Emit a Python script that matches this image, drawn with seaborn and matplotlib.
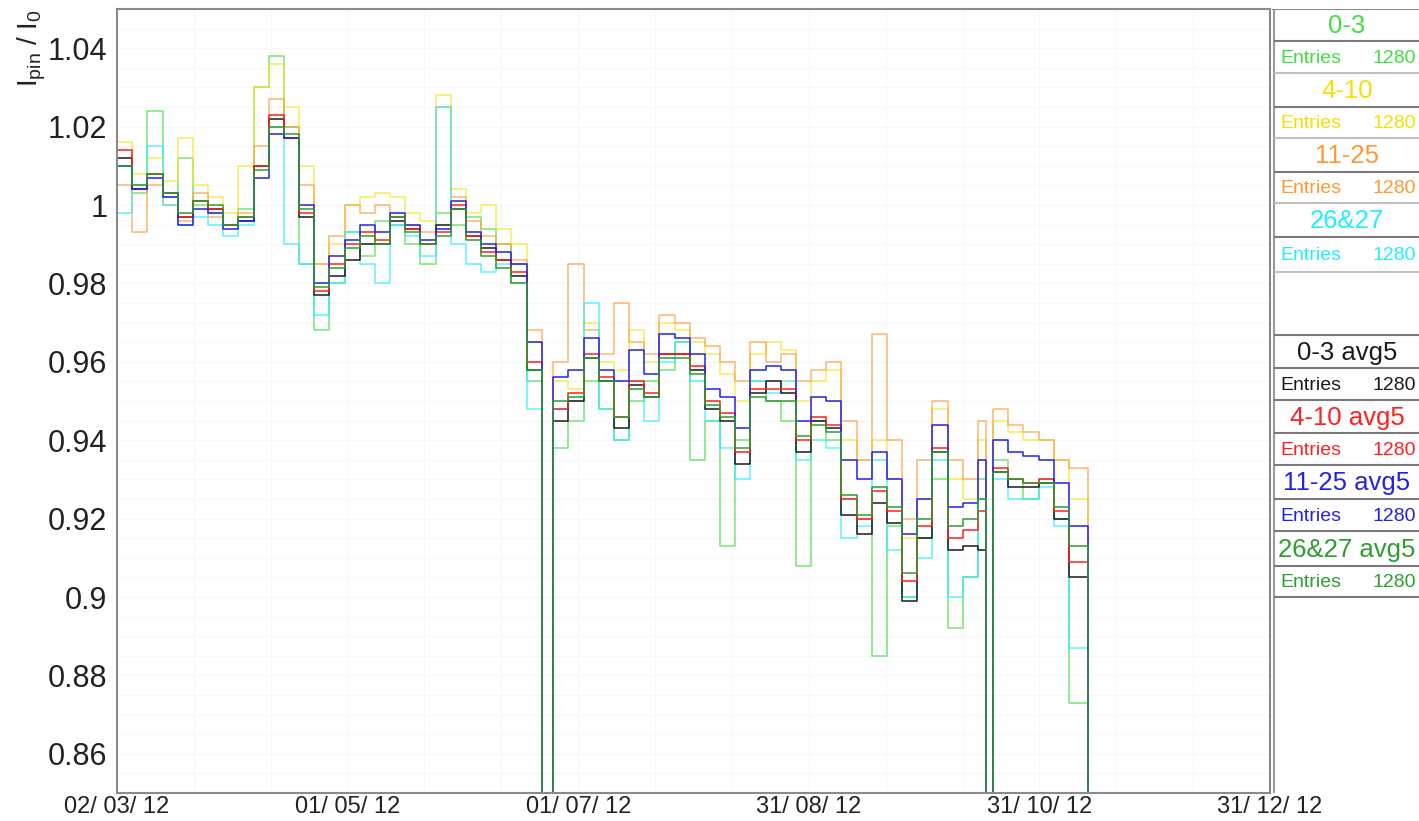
import numpy as np
import pandas as pd
import matplotlib
matplotlib.use('Agg')
import matplotlib.pyplot as plt
from matplotlib.ticker import FixedLocator, FuncFormatter, MultipleLocator
import seaborn as sns

sns.set_style('white')
plt.rcParams['font.family'] = ['Liberation Sans', 'DejaVu Sans']
plt.rcParams['mathtext.default'] = 'regular'

# bin edges in days since 02/03/12
edges = [0, 4, 8, 12, 16, 20, 24, 28, 32, 36, 40, 44, 48, 52, 56, 60, 64, 68, 72, 76,
         80, 84, 88, 92, 96, 100, 104, 108, 112,
         115, 119, 123, 127, 131, 135, 139, 143, 147, 151, 155, 159, 163, 167, 171, 175,
         179, 183, 187, 191, 195, 199, 203, 207, 211, 215, 219, 223, 227, 229,
         231, 235, 239, 243, 247, 251, 256, 304]

series_names = ['0-3', '4-10', '11-25', '26&27', '0-3 avg5', '4-10 avg5', '11-25 avg5', '26&27 avg5']
entries = [1280, 1280, 1280, 1280, 1280, 1280, 1280, 1280]
colors = ['#4ddd4d', '#f7e629', '#ff9f3f', '#2ef0ff', '#1a1a1a', '#ff2020', '#2222ee', '#2e9e2e']
text_colors = ['#44dd44', '#f5e000', '#ff9933', '#22eeff', '#1a1a1a', '#ff2020', '#2222ee', '#2e9e2e']

raw_0_3 = [1.010, 1.003, 1.024, 1.002, 1.012, 1.000, 0.998, 0.995, 0.999, 1.030, 1.038, 1.020, 0.985, 0.968,
           0.980, 0.993, 0.987, 0.996, 0.995, 0.990, 0.985, 0.998, 0.995, 0.997, 0.994, 0.990, 0.985, 0.955,
           0,
           0.938, 0.945, 0.955, 0.948, 0.940, 0.950, 0.955, 0.958, 0.965, 0.935, 0.945, 0.913, 0.940, 0.955,
           0.950, 0.945, 0.908, 0.945, 0.940, 0.925, 0.920, 0.885, 0.918, 0.900, 0.915, 0.930, 0.892, 0.905,
           0.930,
           0,
           0.935, 0.930, 0.925, 0.930, 0.920, 0.873,
           0]
raw_4_10 = [1.016, 1.008, 1.012, 1.006, 1.017, 1.005, 1.002, 0.998, 1.010, 1.030, 1.036, 1.025, 1.010, 0.985,
            0.990, 1.000, 1.002, 1.003, 1.002, 0.998, 0.996, 1.028, 1.004, 0.998, 1.000, 0.994, 0.990, 0.965,
            0,
            0.955, 0.953, 0.970, 0.960, 0.958, 0.968, 0.960, 0.970, 0.968, 0.965, 0.962, 0.957, 0.950, 0.962,
            0.965, 0.963, 0.950, 0.955, 0.958, 0.940, 0.935, 0.940, 0.930, 0.915, 0.925, 0.948, 0.930, 0.925,
            0.940,
            0,
            0.945, 0.942, 0.940, 0.940, 0.935, 0.925,
            0]
raw_11_25 = [1.005, 0.993, 1.005, 1.000, 0.996, 1.003, 0.997, 0.995, 0.998, 1.015, 1.027, 1.020, 1.005, 0.985,
             0.992, 1.000, 0.998, 1.000, 0.997, 0.995, 0.993, 1.025, 1.002, 0.996, 0.992, 0.990, 0.986, 0.968,
             0,
             0.960, 0.985, 0.968, 0.962, 0.975, 0.965, 0.962, 0.972, 0.970, 0.966, 0.964, 0.960, 0.955, 0.965,
             0.960, 0.962, 0.955, 0.958, 0.960, 0.945, 0.935, 0.967, 0.940, 0.920, 0.935, 0.950, 0.935, 0.930,
             0.945,
             0,
             0.948, 0.944, 0.942, 0.940, 0.935, 0.933,
             0]
raw_26_27 = [0.998, 1.005, 1.015, 1.000, 0.995, 0.997, 0.995, 0.992, 0.995, 1.010, 1.020, 0.990, 0.985, 0.972,
             0.980, 0.993, 0.985, 0.980, 0.995, 0.992, 0.987, 1.025, 0.990, 0.985, 0.983, 0.985, 0.980, 0.948,
             0,
             0.948, 0.950, 0.975, 0.948, 0.940, 0.955, 0.945, 0.960, 0.965, 0.955, 0.945, 0.938, 0.930, 0.955,
             0.952, 0.955, 0.935, 0.940, 0.938, 0.915, 0.918, 0.935, 0.912, 0.900, 0.910, 0.935, 0.900, 0.905,
             0.925,
             0,
             0.930, 0.925, 0.925, 0.928, 0.918, 0.887,
             0]
avg_0_3 = [1.012, 1.004, 1.008, 1.003, 0.997, 1.001, 0.999, 0.995, 0.996, 1.010, 1.022, 1.017, 0.997, 0.977,
           0.982, 0.986, 0.990, 0.990, 0.996, 0.994, 0.990, 0.995, 0.999, 0.992, 0.989, 0.986, 0.982, 0.958,
           0,
           0.945, 0.950, 0.961, 0.955, 0.943, 0.954, 0.951, 0.962, 0.962, 0.958, 0.948, 0.945, 0.934, 0.952,
           0.955, 0.952, 0.937, 0.945, 0.943, 0.921, 0.916, 0.924, 0.919, 0.899, 0.915, 0.937, 0.912, 0.913,
           0.912,
           0,
           0.932, 0.928, 0.928, 0.929, 0.920, 0.905,
           0]
avg_4_10 = [1.014, 1.004, 1.008, 1.003, 0.997, 1.001, 0.999, 0.995, 0.997, 1.010, 1.023, 1.017, 0.998, 0.978,
            0.985, 0.990, 0.993, 0.991, 0.997, 0.994, 0.990, 0.993, 1.000, 0.992, 0.988, 0.986, 0.983, 0.960,
            0,
            0.948, 0.952, 0.962, 0.956, 0.946, 0.955, 0.952, 0.962, 0.962, 0.959, 0.950, 0.947, 0.937, 0.953,
            0.953, 0.953, 0.940, 0.946, 0.944, 0.925, 0.920, 0.927, 0.922, 0.904, 0.918, 0.938, 0.915, 0.917,
            0.922,
            0,
            0.933, 0.930, 0.929, 0.930, 0.922, 0.909,
            0]
avg_11_25 = [1.010, 1.004, 1.007, 1.002, 0.995, 0.999, 0.998, 0.994, 0.996, 1.007, 1.018, 1.017, 1.000, 0.980,
             0.987, 0.991, 0.995, 0.993, 0.998, 0.995, 0.991, 0.994, 1.001, 0.993, 0.990, 0.988, 0.985, 0.965,
             0,
             0.956, 0.958, 0.966, 0.958, 0.955, 0.963, 0.957, 0.967, 0.966, 0.962, 0.953, 0.951, 0.943, 0.958,
             0.959, 0.958, 0.945, 0.951, 0.950, 0.935, 0.930, 0.937, 0.930, 0.916, 0.925, 0.944, 0.923, 0.924,
             0.935,
             0,
             0.940, 0.937, 0.936, 0.935, 0.929, 0.918,
             0]
avg_26_27 = [1.010, 1.005, 1.008, 1.003, 0.998, 1.001, 1.000, 0.995, 0.997, 1.009, 1.020, 1.018, 0.999, 0.979,
             0.984, 0.989, 0.992, 0.990, 0.997, 0.993, 0.990, 0.992, 0.999, 0.991, 0.987, 0.984, 0.980, 0.958,
             0,
             0.950, 0.951, 0.961, 0.955, 0.946, 0.953, 0.951, 0.961, 0.961, 0.957, 0.949, 0.946, 0.938, 0.951,
             0.950, 0.950, 0.941, 0.944, 0.942, 0.926, 0.921, 0.928, 0.923, 0.906, 0.920, 0.937, 0.918, 0.920,
             0.925,
             0,
             0.932, 0.930, 0.929, 0.929, 0.923, 0.913,
             0]

all_values = [raw_0_3, raw_4_10, raw_11_25, raw_26_27, avg_0_3, avg_4_10, avg_11_25, avg_26_27]

x_tick_days = [0, 60.8, 121.6, 182.4, 243.2, 304]
x_tick_labels = ['02/ 03/ 12', '01/ 05/ 12', '01/ 07/ 12', '31/ 08/ 12', '31/ 10/ 12', '31/ 12/ 12']

YMIN, YMAX = 0.85, 1.05
W, H = 1419, 821

fig = plt.figure(figsize=(W / 100, H / 100), dpi=100)
ax = fig.add_axes([117 / W, 28 / H, 1153 / W, 784 / H])

for i, (name, vals) in enumerate(zip(series_names, all_values)):
    assert len(vals) == len(edges) - 1, name
    x = [edges[0]] + edges
    y = np.maximum([YMIN] + vals + [vals[-1]], YMIN)
    df = pd.DataFrame({'day': x, 'ratio': y})
    sns.lineplot(data=df, x='day', y='ratio', ax=ax, color=colors[i],
                 alpha=0.7 if i < 4 else 1.0, lw=1.2 if i < 4 else 1.1,
                 drawstyle='steps-post', estimator=None, sort=False)

ax.set_xlim(0, 304)
ax.set_ylim(YMIN, YMAX)
ax.xaxis.set_major_locator(FixedLocator(x_tick_days))
ax.set_xticklabels(x_tick_labels)
ax.xaxis.set_minor_locator(FixedLocator(np.linspace(0, 304, 16)))
ax.yaxis.set_major_locator(MultipleLocator(0.02))
ax.yaxis.set_minor_locator(MultipleLocator(0.005))
ax.yaxis.set_major_formatter(FuncFormatter(lambda v, p: f'{round(v, 2):g}'))
ax.grid(which='both', color='#f7f7f7', lw=0.8)
ax.set_axisbelow(True)

ax.tick_params(axis='y', which='major', direction='in', length=25, width=1.2, color='#555555',
               labelsize=22, labelcolor='#222222', pad=7)
ax.tick_params(axis='y', which='minor', direction='in', length=12, width=1.2, color='#555555')
ax.tick_params(axis='x', which='major', direction='in', length=16, width=1.2, color='#555555',
               labelsize=17, labelcolor='#222222', pad=2)
ax.tick_params(axis='x', which='minor', direction='in', length=7, width=1.2, color='#555555')
for s in ax.spines.values():
    s.set_color('#8a8a8a')
    s.set_linewidth(1.5)

ax.set_xlabel('')
ax.set_ylabel('$I_{pin}$ / $I_{0}$', fontsize=20, color='#222222', loc='top')
ax.yaxis.set_label_coords(-0.06, 1.0)

# stats boxes on the right
lax = fig.add_axes([1272 / W, 28 / H, 147 / W, 784 / H])
lax.set_xlim(0, 147)
lax.set_ylim(793, 9)
lax.axis('off')
lax.vlines(1.5, 9, 793, color='#9a9a9a', lw=1.5)
lax.hlines(9, 0, 147, color='#8a8a8a', lw=1.5)

box_tops = [9, 73, 138, 203, 335, 400, 465, 531]
box_mid = [41, 107, 172, 237, 368, 433, 499, 566]
box_bot = [73, 138, 203, 272, 400, 465, 531, 597]
for i, name in enumerate(series_names):
    t, m, b = box_tops[i], box_mid[i], box_bot[i]
    lax.hlines(m, 1.5, 147, color='#7a7a7a', lw=1.5)
    lax.hlines(b, 1.5, 147, color='#7a7a7a' if i >= 4 else '#c0c0c0', lw=1.5)
    if i == 4:
        lax.hlines(t, 1.5, 147, color='#7a7a7a', lw=1.5)
    lax.text(75, (t + m) / 2 + 1, name, color=text_colors[i], fontsize=18.5, ha='center', va='center')
    lax.text(8, (m + b) / 2 + 1, 'Entries', color=text_colors[i], fontsize=14, ha='left', va='center')
    lax.text(144, (m + b) / 2 + 1, str(entries[i]), color=text_colors[i], fontsize=14, ha='right', va='center')

fig.savefig('out.png', dpi=100)
